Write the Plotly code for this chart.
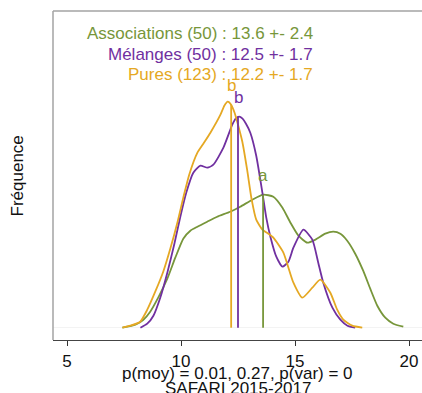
import plotly.graph_objects as go

# ---- data ----
groups = ["Associations", "Mélanges", "Pures"]
n_obs = [50, 50, 123]
means = [13.6, 12.5, 12.2]
sds = [2.4, 1.7, 1.7]
letters = ["a", "b", "b"]
colors = ["#77963a", "#7030a0", "#e5a823"]

assoc_x = [7.43, 8.00, 8.35, 8.65, 9.00, 9.40, 9.75, 10.10, 10.41, 10.72, 11.15, 11.59, 12.16,
           12.60, 13.13, 13.61, 14.05, 14.45, 14.80, 15.15, 15.54, 15.89, 16.33, 16.68, 16.99,
           17.29, 17.64, 17.99, 18.30, 18.61, 18.96, 19.31, 19.75]
assoc_y = [0.000, 0.003, 0.008, 0.016, 0.030, 0.049, 0.070, 0.089, 0.097, 0.101, 0.106, 0.111, 0.116,
           0.121, 0.128, 0.133, 0.131, 0.120, 0.105, 0.092, 0.085, 0.088, 0.094, 0.096, 0.094,
           0.087, 0.074, 0.057, 0.039, 0.022, 0.010, 0.004, 0.001]

melange_x = [8.22, 8.52, 8.79, 9.09, 9.40, 9.71, 9.97, 10.23, 10.54, 10.85, 11.16, 11.42, 11.86,
             12.25, 12.40, 12.55, 12.70, 12.85, 13.04, 13.30, 13.57, 13.74, 13.92, 14.18, 14.45,
             14.71, 14.93, 15.37, 15.76, 16.02, 16.24, 16.64, 16.99, 17.30, 17.64]
melange_y = [0.000, 0.004, 0.012, 0.030, 0.055, 0.084, 0.111, 0.135, 0.155, 0.162, 0.160, 0.163, 0.180,
             0.203, 0.209, 0.211, 0.209, 0.204, 0.195, 0.172, 0.135, 0.110, 0.091, 0.071, 0.061,
             0.066, 0.080, 0.098, 0.088, 0.065, 0.045, 0.020, 0.008, 0.002, 0.000]

pures_x = [7.43, 7.78, 8.21, 8.52, 8.87, 9.22, 9.53, 9.84, 10.10, 10.36, 10.72, 10.98, 11.29,
           11.73, 11.90, 12.05, 12.20, 12.35, 12.50, 12.69, 12.90, 13.10, 13.30, 13.57, 13.83, 14.05,
           14.49, 14.93, 15.32, 15.76, 16.11, 16.55, 16.85, 17.12, 17.51, 17.95]
pures_y = [0.000, 0.002, 0.006, 0.018, 0.036, 0.056, 0.079, 0.105, 0.130, 0.153, 0.175, 0.184, 0.195,
           0.213, 0.222, 0.226, 0.223, 0.215, 0.203, 0.186, 0.158, 0.128, 0.108, 0.098, 0.094, 0.090,
           0.075, 0.045, 0.030, 0.040, 0.048, 0.035, 0.018, 0.008, 0.002, 0.000]

mean_heights = [0.133, 0.211, 0.223]

x_ticks = [5, 10, 15, 20]
x_title = "SAFARI 2015-2017"
p_text = "p(moy) = 0.01, 0.27, p(var) = 0"
y_title = "Fréquence"

curves_x = [assoc_x, melange_x, pures_x]
curves_y = [assoc_y, melange_y, pures_y]

FONT = "Liberation Sans, Arial, sans-serif"

fig = go.Figure()
for cx, cy, col, name in zip(curves_x, curves_y, colors, groups):
    fig.add_trace(go.Scatter(x=cx, y=cy, mode="lines", name=name,
                             line=dict(color=col, width=1.8, shape="spline", smoothing=0.55),
                             showlegend=False, hoverinfo="skip"))

for m, h, col in zip(means, mean_heights, colors):
    fig.add_trace(go.Scatter(x=[m, m], y=[0, h], mode="lines",
                             line=dict(color=col, width=1.8),
                             showlegend=False, hoverinfo="skip"))

annotations = []
for m, h, col, let in zip(means, mean_heights, colors, letters):
    annotations.append(dict(x=m, y=h + 0.019, xref="x", yref="y", text=let, showarrow=False,
                            font=dict(family=FONT, size=17, color=col),
                            xanchor="center", yanchor="middle"))

legend_y = [0.2947, 0.2737, 0.2537]
for g, n, m, s, col, ly in zip(groups, n_obs, means, sds, colors, legend_y):
    annotations.append(dict(x=15.89, y=ly, xref="x", yref="y",
                            text=f"{g} ({n}) : {m} +- {s}", showarrow=False,
                            font=dict(family=FONT, size=17, color=col),
                            xanchor="right", yanchor="middle"))

annotations.append(dict(x=0.5, y=-0.1033, xref="paper", yref="paper", text=p_text,
                        showarrow=False, font=dict(family=FONT, size=17, color="#111"),
                        xanchor="center", yanchor="middle"))
annotations.append(dict(x=0.5, y=-0.146, xref="paper", yref="paper", text=x_title,
                        showarrow=False, font=dict(family=FONT, size=17, color="#111"),
                        xanchor="center", yanchor="middle"))
annotations.append(dict(x=-0.0949, y=0.5, xref="paper", yref="paper", text=y_title,
                        showarrow=False, textangle=-90,
                        font=dict(family=FONT, size=17, color="#111"),
                        xanchor="center", yanchor="middle"))

fig.update_layout(
    width=422, height=393,
    margin=dict(l=53, r=0, t=11, b=53),
    plot_bgcolor="white", paper_bgcolor="white",
    annotations=annotations,
    shapes=[
        dict(type="line", xref="paper", yref="paper", x0=0, x1=1, y0=1, y1=1,
             line=dict(color="#a3a3a3", width=1.5)),
        dict(type="line", xref="paper", yref="paper", x0=0, x1=0, y0=0, y1=1,
             line=dict(color="#a3a3a3", width=1.5)),
    ],
    xaxis=dict(range=[4.386, 20.57], tickvals=x_ticks, ticks="outside", ticklen=5,
               tickcolor="#333", showline=True, linecolor="#444", linewidth=1.3,
               showgrid=False, zeroline=False,
               tickfont=dict(family=FONT, size=17, color="#111")),
    yaxis=dict(range=[-0.0123, 0.3167], showticklabels=False, ticks="",
               showgrid=False, zeroline=True, zerolinecolor="#f3f3f3", zerolinewidth=1),
)

fig.write_html("out.html")
